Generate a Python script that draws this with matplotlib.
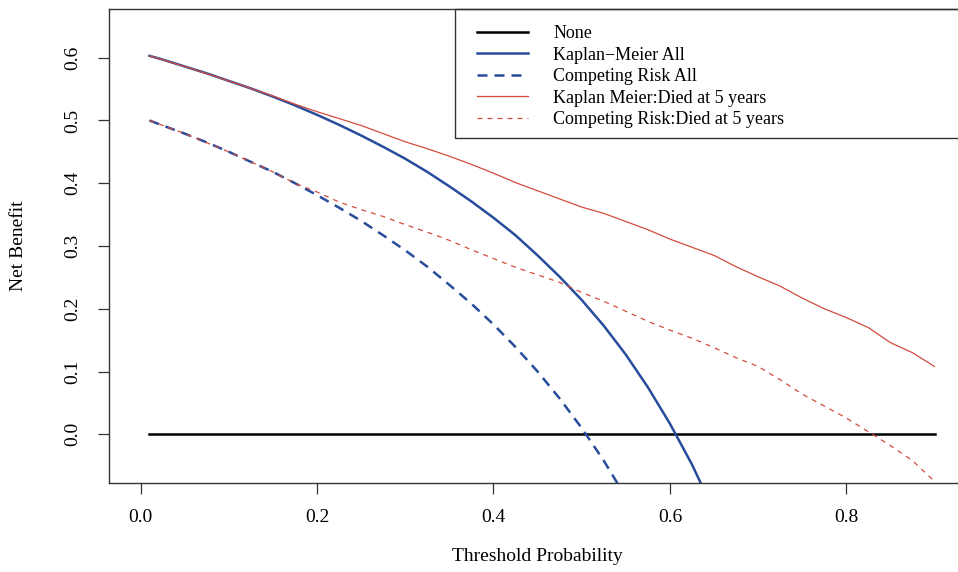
import matplotlib
matplotlib.use("Agg")
import matplotlib.pyplot as plt
from matplotlib.patches import Rectangle

plt.rcParams['font.family'] = ['Liberation Serif', 'DejaVu Serif']

# threshold grid
t_all = [0.01, 0.025, 0.05, 0.075, 0.10, 0.125, 0.15, 0.175, 0.20, 0.225, 0.25,
         0.275, 0.30, 0.325, 0.35, 0.375, 0.40, 0.425, 0.45, 0.475, 0.50, 0.525,
         0.55, 0.575, 0.60, 0.625, 0.65]
km_all = [0.603, 0.597, 0.586, 0.575, 0.563, 0.551, 0.538, 0.524, 0.509, 0.493, 0.476,
          0.458, 0.439, 0.418, 0.395, 0.371, 0.345, 0.317, 0.285, 0.251, 0.214, 0.173,
          0.127, 0.075, 0.017, -0.048, -0.123]

t_cr = t_all[:23]
cr_all = [0.500, 0.492, 0.479, 0.465, 0.450, 0.434, 0.418, 0.400, 0.381, 0.361, 0.340,
          0.317, 0.293, 0.267, 0.238, 0.208, 0.175, 0.139, 0.100, 0.057, 0.010, -0.042,
          -0.100]

t_5y = [0.01, 0.05, 0.10, 0.15, 0.175, 0.20, 0.225, 0.25, 0.275, 0.30, 0.325, 0.35,
        0.375, 0.40, 0.425, 0.45, 0.475, 0.50, 0.525, 0.55, 0.575, 0.60, 0.625, 0.65,
        0.675, 0.70, 0.725, 0.75, 0.775, 0.80, 0.825, 0.85, 0.875, 0.90]
km_5y = [0.603, 0.586, 0.563, 0.539, 0.526, 0.514, 0.503, 0.492, 0.479, 0.466, 0.455, 0.443,
         0.430, 0.416, 0.401, 0.388, 0.375, 0.362, 0.352, 0.339, 0.326, 0.311, 0.298, 0.285,
         0.267, 0.251, 0.236, 0.217, 0.200, 0.186, 0.170, 0.146, 0.130, 0.108]
cr_5y = [0.500, 0.479, 0.450, 0.418, 0.400, 0.386, 0.370, 0.358, 0.347, 0.334, 0.322, 0.309,
         0.294, 0.280, 0.266, 0.254, 0.242, 0.226, 0.212, 0.196, 0.180, 0.166, 0.153, 0.138,
         0.122, 0.108, 0.087, 0.064, 0.045, 0.026, 0.004, -0.018, -0.042, -0.075]

t_none = [0.01, 0.90]
none_nb = [0.0, 0.0]

labels = ["None", "Kaplan\u2212Meier All", "Competing Risk All",
          "Kaplan Meier:Died at 5 years", "Competing Risk:Died at 5 years"]

blue = '#284C9C'
red = '#D44B3D'

fig = plt.figure(figsize=(9.58, 5.72), dpi=100)
ax = fig.add_axes([109 / 958, 1 - 483.3 / 572, 857 / 958, 474.3 / 572])

h0, = ax.plot(t_none, none_nb, color='black', lw=1.8)
h1, = ax.plot(t_all, km_all, color=blue, lw=1.8)
h2, = ax.plot(t_cr, cr_all, color=blue, lw=1.8, dashes=(4, 2.8))
h3, = ax.plot(t_5y, km_5y, color=red, lw=0.9)
h4, = ax.plot(t_5y, cr_5y, color=red, lw=0.9, dashes=(4, 4))

ax.set_xlim(-0.0359, 0.9357)
ax.set_ylim(-0.0781, 0.6776)
ax.set_xticks([0.0, 0.2, 0.4, 0.6, 0.8])
ax.set_xticklabels(["0.0", "0.2", "0.4", "0.6", "0.8"])
ax.set_yticks([0.0, 0.1, 0.2, 0.3, 0.4, 0.5, 0.6])
ax.set_yticklabels(["0.0", "0.1", "0.2", "0.3", "0.4", "0.5", "0.6"], rotation=90, va='center')
ax.tick_params(axis='both', length=8, width=0.9, color='#333333', labelsize=14)
ax.tick_params(axis='x', pad=10.5)
ax.tick_params(axis='y', pad=12)
for s in ax.spines.values():
    s.set_color('#333333')
    s.set_linewidth(1.0)

ax.set_xlabel("Threshold Probability", fontsize=14)
ax.set_ylabel("Net Benefit", fontsize=14)
ax.xaxis.set_label_coords(0.5, -0.155)
ax.xaxis.label.set_va('center')
ax.yaxis.set_label_coords(-0.106, 0.5)
ax.yaxis.label.set_va('center')

# legend box (R style, top right)
ax.add_patch(Rectangle((0.4037, 0.728), 0.6, 0.272, transform=ax.transAxes,
                       fill=False, edgecolor='#333333', lw=1.0, clip_on=False))
ax.legend([h0, h1, h2, h3, h4], labels, loc='upper left',
          bbox_to_anchor=((477 - 109) / 857, 0.966), frameon=False,
          borderpad=0, borderaxespad=0, handlelength=2.83, handletextpad=1.39,
          labelspacing=0.25, fontsize=13)

fig.savefig("out.png", dpi=100)
